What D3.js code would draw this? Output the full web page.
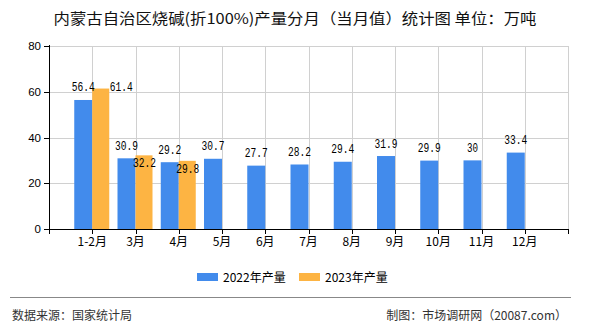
<!DOCTYPE html>
<html><head><meta charset="utf-8">
<script src="https://cdn.jsdelivr.net/npm/d3@7"></script>
<style>
body{margin:0;background:#fff;}
svg{display:block;}
</style></head>
<body>
<svg id="c" width="590" height="330"></svg>
<script>
const categories = ["1-2月","3月","4月","5月","6月","7月","8月","9月","10月","11月","12月"];
const values2022 = [56.4,30.9,29.2,30.7,27.7,28.2,29.4,31.9,29.9,30,33.4];
const values2023 = [61.4,32.2,29.8];
const seriesNames = ["2022年产量","2023年产量"];
const yTicks = [0,20,40,60,80];
const colors = ["#428bec","#fdb443"];
const titleText = "内蒙古自治区烧碱(折100%)产量分月（当月值）统计图 单位：万吨";
const sourceText = "数据来源：国家统计局";
const creditText = "制图：市场调研网（20087.com）";

const svg = d3.select("#c");
const L=49, R=568, T=46, B=229;
const x = d3.scaleLinear().domain([0, categories.length+1]).range([L,R]);
const y = d3.scaleLinear().domain([0,80]).range([B,T]);
const bw = 18;
const sans = "'Liberation Sans', Arial, sans-serif";
const cjk = "'Noto Sans CJK SC', sans-serif";
const mono = "'Liberation Mono', 'DejaVu Sans Mono', monospace";

// title
svg.append("text").attr("x",295).attr("y",24).attr("text-anchor","middle")
  .attr("font-family",cjk).attr("font-size",15).attr("fill","#111")
  .attr("textLength",483).attr("lengthAdjust","spacingAndGlyphs").text(titleText);

// grid
const g = svg.append("g");
g.selectAll(".hg").data(yTicks.filter(d=>d>0)).enter().append("line")
  .attr("x1",L).attr("x2",R).attr("y1",d=>Math.round(y(d))+0.5).attr("y2",d=>Math.round(y(d))+0.5)
  .attr("stroke","#d0d0d0").attr("stroke-width",1);
const vpos = categories.map((c,i)=>i+1).concat([categories.length+1]);
g.selectAll(".vg").data(vpos).enter().append("line")
  .attr("x1",d=>Math.round(x(d))+0.5).attr("x2",d=>Math.round(x(d))+0.5).attr("y1",T).attr("y2",B)
  .attr("stroke","#d0d0d0").attr("stroke-width",1);

// bars
const bars = svg.append("g");
bars.selectAll(".b1").data(values2022).enter().append("rect")
  .attr("x",(d,i)=>x(i+1)-bw).attr("width",bw)
  .attr("y",d=>y(d)).attr("height",d=>B-y(d)).attr("fill",colors[0]);
bars.selectAll(".b2").data(values2023).enter().append("rect")
  .attr("x",(d,i)=>x(i+1)).attr("width",bw-1)
  .attr("y",d=>y(d)).attr("height",d=>B-y(d)).attr("fill",colors[1]);

// axes
const ax = svg.append("g").attr("stroke","#000").attr("stroke-width",1);
ax.append("line").attr("x1",L+0.5).attr("x2",L+0.5).attr("y1",T-1).attr("y2",B+5);
ax.append("line").attr("x1",L-5).attr("x2",R+1).attr("y1",B+0.5).attr("y2",B+0.5);
ax.selectAll(".yt").data(yTicks).enter().append("line")
  .attr("x1",L-5).attr("x2",L).attr("y1",d=>Math.round(y(d))+0.5).attr("y2",d=>Math.round(y(d))+0.5);
ax.selectAll(".xt").data(vpos).enter().append("line")
  .attr("x1",d=>Math.round(x(d))+0.5).attr("x2",d=>Math.round(x(d))+0.5).attr("y1",B).attr("y2",B+5);

svg.selectAll(".yl").data(yTicks).enter().append("text")
  .attr("x",41).attr("y",d=>y(d)+4).attr("text-anchor","end")
  .attr("font-family",sans).attr("font-size",11.5).attr("fill","#000").text(d=>d);
svg.selectAll(".xl").data(categories).enter().append("text")
  .attr("x",(d,i)=>x(i+1)).attr("y",245.5).attr("text-anchor","middle")
  .attr("font-family",cjk).attr("font-size",12).attr("fill","#000").text(d=>d);

// value labels
const lab = svg.append("g").attr("font-family",mono).attr("font-size",12).attr("fill","#000");
const blueBoxes = values2022.map((v,i)=>{
  const cx = x(i+1)-bw/2, cy = y(v)-12.5;
  const s = String(v), w = s.length*6;
  lab.append("text").attr("x",cx).attr("y",cy+4).attr("text-anchor","middle")
    .attr("textLength",w-1).attr("lengthAdjust","spacingAndGlyphs").text(s);
  return {x0:cx-w/2, x1:cx+w/2, y0:cy-5, y1:cy+5, cy:cy};
});
values2023.forEach((v,i)=>{
  const s = String(v), w = s.length*6;
  let cx = x(i+1)+bw/2, cy = y(v)+8;
  const bb = blueBoxes[i];
  if (cx-w/2 < bb.x1 && cx+w/2 > bb.x0 && cy-5 < bb.y1 && cy+5 > bb.y0) {
    cx = bb.x1 + 14 + w/2; cy = bb.cy;
  }
  lab.append("text").attr("x",cx).attr("y",cy+4).attr("text-anchor","middle")
    .attr("textLength",w-1).attr("lengthAdjust","spacingAndGlyphs").text(s);
});

// legend
const lg = svg.append("g");
const lx = [197, 299];
seriesNames.forEach((n,i)=>{
  lg.append("rect").attr("x",lx[i]).attr("y",273).attr("width",21).attr("height",8).attr("fill",colors[i]);
  lg.append("text").attr("x",lx[i]+26).attr("y",281.5).attr("font-family",cjk).attr("font-size",12)
    .attr("fill","#000").text(n);
});

// footer
svg.append("line").attr("x1",10).attr("x2",571).attr("y1",297.5).attr("y2",297.5).attr("stroke","#888").attr("stroke-width",1);
svg.append("text").attr("x",12).attr("y",320).attr("font-family",cjk).attr("font-size",12).attr("fill","#333").text(sourceText);
svg.append("text").attr("x",567).attr("y",320).attr("text-anchor","end").attr("font-family",cjk).attr("font-size",12).attr("fill","#333").text(creditText);
</script>
</body></html>
